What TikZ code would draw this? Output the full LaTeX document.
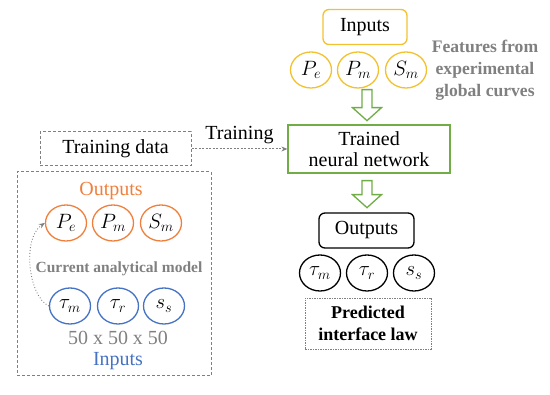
\documentclass[tikz,border=0pt]{standalone}
\usepackage{fontspec}
\setmainfont{Liberation Serif}
\usetikzlibrary{shapes.geometric,arrows.meta,calc}
\definecolor{cyel}{HTML}{F2C12E}
\definecolor{corg}{HTML}{F07F3C}
\definecolor{cblu}{HTML}{4472C4}
\definecolor{cgrn}{HTML}{70AD47}
\definecolor{cgry}{HTML}{808080}
\begin{document}
\begin{tikzpicture}[x=1pt,y=-1pt,
  txt/.style={font=\fontsize{20}{22}\selectfont, inner sep=0pt},
  oval/.style={ellipse, draw, line width=1.3pt, minimum width=41pt, minimum height=36pt, inner sep=0pt, font=\fontsize{22}{24}\selectfont},
  solidbox/.style={draw, line width=1.3pt, inner sep=0pt, font=\fontsize{20}{22}\selectfont, align=center},
  dashbox/.style={draw=cgry, line width=1pt, dash pattern=on 3pt off 2pt, inner sep=0pt},
  hollow/.style={draw=cgrn, line width=1.3pt, fill=white, line join=miter},
  graybold/.style={text=cgry, font=\bfseries\fontsize{17.6}{22}\selectfont, align=center, inner sep=0pt}
]
\useasboundingbox (0,0) rectangle (550,395);

% ---- top right: inputs
\node[solidbox, draw=cyel, rounded corners=6pt, minimum width=84pt, minimum height=35pt] (inbox) at (365,27) {Inputs};
\node[oval, draw=cyel] (ipe) at (311,70) {$P_e$};
\node[oval, draw=cyel] (ipm) at (358,70) {$P_m$};
\node[oval, draw=cyel] (ism) at (406,70) {$S_m$};
\node[graybold] (feat) at (485,70) {Features from\\experimental\\global curves};

% ---- trained network
\node[solidbox, draw=cgrn, minimum width=162pt, minimum height=48pt] (net) at (369,149) {Trained\\[-1pt]neural network};

% hollow arrows
\coordinate (a1) at ($(ipm.south)+(9,1)$);
\draw[hollow] ($(a1)+(-5,0)$) -- ++(10,0) -- ++(0,18) -- ++(9.5,0) -- ++(-14.5,13) -- ++(-14.5,-13) -- ++(9.5,0) -- cycle;
\coordinate (a2) at ($(net.south)+(-2,7)$);
\draw[hollow] ($(a2)+(-5,0)$) -- ++(10,0) -- ++(0,14) -- ++(9.5,0) -- ++(-14.5,13) -- ++(-14.5,-13) -- ++(9.5,0) -- cycle;

% ---- outputs right
\node[solidbox, draw=black, rounded corners=6pt, minimum width=95pt, minimum height=35pt] (outbox) at (366.5,230.5) {Outputs};
\node[oval, draw=black] (otm) at (320,273) {$\tau_m$};
\node[oval, draw=black] (otr) at (367,273) {$\tau_r$};
\node[oval, draw=black] (oss) at (414,273) {$s_s$};
\node[draw=cgry, line width=0.9pt, dash pattern=on 1.5pt off 1pt, minimum width=126pt, minimum height=51pt, inner sep=0pt, align=center, font=\bfseries\fontsize{18}{22}\selectfont] (pred) at (368,323.5) {Predicted\\interface law};

% ---- left: training data
\node[dashbox, minimum width=151pt, minimum height=34pt, txt] (tdata) at (115.5,149) {Training data};
\draw[cgry, line width=1pt, dash pattern=on 2pt off 1.5pt, -{Stealth[length=6pt,width=5pt]}] (tdata.east) -- (net.west)
  node[midway, above=5pt, txt, text=black] (trlab) {Training};

\node[dashbox, minimum width=194pt, minimum height=204pt] (big) at (114,274) {};
\node[txt, text=corg] (outlab) at (111,191) {Outputs};
\node[oval, draw=corg] (lpe) at (66,223) {$P_e$};
\node[oval, draw=corg] (lpm) at (113,223) {$P_m$};
\node[oval, draw=corg] (lsm) at (161,223) {$S_m$};
\node[graybold, font=\bfseries\fontsize{15.5}{18}\selectfont] (cam) at (119,269) {Current analytical model};
\node[oval, draw=cblu] (ltm) at (70,306) {$\tau_m$};
\node[oval, draw=cblu] (ltr) at (118,306) {$\tau_r$};
\node[oval, draw=cblu] (lss) at (164,306) {$s_s$};
\node[txt, text=cgry] (dims) at (118,338) {50 x 50 x 50};
\node[txt, text=cblu] (inlab) at (118,361) {Inputs};
\draw[cgry, line width=0.9pt, dotted, -{Stealth[length=6pt,width=5pt]}] (ltm.west) .. controls (28,296) and (22,238) .. (lpe.west);
\end{tikzpicture}
\end{document}
